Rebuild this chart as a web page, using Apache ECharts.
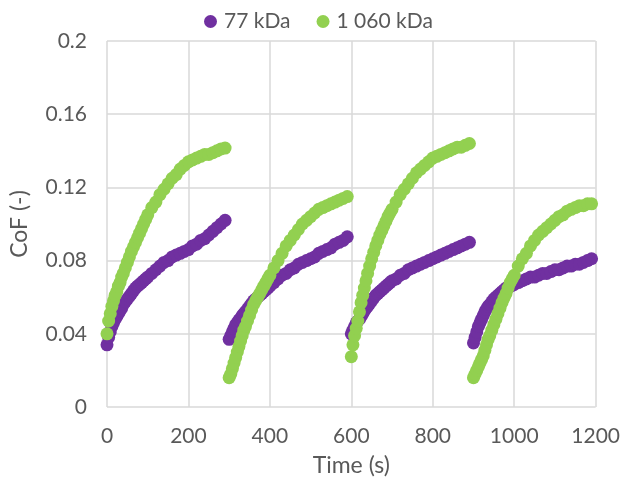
<!DOCTYPE html>
<html>
<head>
<meta charset="utf-8">
<script src="https://cdn.jsdelivr.net/npm/echarts@6/dist/echarts.min.js"></script>
<style>
  html, body { margin: 0; padding: 0; background: #fff; }
  #chart { width: 623px; height: 486px; }
</style>
</head>
<body>
<div id="chart"></div>
<script>
// start of each 300 s run and sample times within a run (s)
const segStarts = [0, 300, 600, 900]
const relTime = [0, 4, 8, 12, 16, 20, 24, 28, 32, 36, 40, 45, 50, 55, 60, 65, 70, 75, 80, 85, 90, 95, 100,
                 110, 120, 130, 140, 150, 160, 170, 180, 190, 200, 210, 220, 230, 240, 250, 260, 270, 280, 290]

// 77 kDa, CoF per run
const p1 = [0.034, 0.038, 0.041, 0.044, 0.046, 0.048, 0.0495, 0.051, 0.0525, 0.054, 0.056, 0.0575, 0.059, 0.0605, 0.062, 0.0635, 0.065, 0.066, 0.067, 0.068, 0.069, 0.070, 0.071,
            0.073, 0.075, 0.077, 0.079, 0.080, 0.082, 0.083, 0.084, 0.085, 0.086, 0.088, 0.089, 0.091, 0.092, 0.094, 0.096, 0.098, 0.100, 0.102]
const p2 = [0.037, 0.039, 0.041, 0.043, 0.045, 0.046, 0.0475, 0.0485, 0.050, 0.051, 0.052, 0.0535, 0.055, 0.0565, 0.058, 0.059, 0.060, 0.061, 0.062, 0.063, 0.064, 0.065, 0.066,
            0.068, 0.070, 0.072, 0.073, 0.075, 0.076, 0.078, 0.079, 0.080, 0.081, 0.082, 0.084, 0.085, 0.086, 0.087, 0.089, 0.090, 0.091, 0.093]
const p3 = [0.040, 0.042, 0.044, 0.046, 0.047, 0.048, 0.0495, 0.051, 0.0525, 0.054, 0.055, 0.0565, 0.058, 0.0595, 0.061, 0.062, 0.063, 0.064, 0.065, 0.066, 0.067, 0.068, 0.069,
            0.070, 0.072, 0.073, 0.075, 0.076, 0.077, 0.078, 0.079, 0.080, 0.081, 0.082, 0.083, 0.084, 0.085, 0.086, 0.087, 0.088, 0.089, 0.090]
const p4 = [0.035, 0.038, 0.041, 0.044, 0.046, 0.048, 0.050, 0.052, 0.0535, 0.055, 0.056, 0.0575, 0.059, 0.060, 0.061, 0.062, 0.063, 0.064, 0.065, 0.0655, 0.066, 0.0665, 0.067,
            0.068, 0.069, 0.070, 0.071, 0.071, 0.072, 0.073, 0.073, 0.074, 0.075, 0.075, 0.076, 0.077, 0.077, 0.078, 0.078, 0.079, 0.080, 0.081]

// 1 060 kDa, CoF per run
const g1 = [0.040, 0.047, 0.051, 0.055, 0.058, 0.061, 0.063, 0.066, 0.068, 0.071, 0.073, 0.076, 0.079, 0.082, 0.085, 0.0875, 0.090, 0.0925, 0.095, 0.0975, 0.100, 0.1025, 0.105,
            0.109, 0.112, 0.116, 0.119, 0.122, 0.125, 0.127, 0.130, 0.132, 0.134, 0.135, 0.136, 0.137, 0.138, 0.138, 0.139, 0.140, 0.141, 0.1415]
const g2 = [0.016, 0.018, 0.021, 0.024, 0.027, 0.030, 0.033, 0.036, 0.039, 0.042, 0.044, 0.047, 0.050, 0.053, 0.056, 0.058, 0.060, 0.062, 0.064, 0.066, 0.068, 0.070, 0.072,
            0.076, 0.080, 0.084, 0.088, 0.091, 0.094, 0.097, 0.100, 0.102, 0.104, 0.106, 0.108, 0.109, 0.110, 0.111, 0.112, 0.113, 0.114, 0.115]
const g3 = [0.0275, 0.034, 0.039, 0.043, 0.047, 0.052, 0.057, 0.061, 0.065, 0.069, 0.073, 0.077, 0.081, 0.0845, 0.088, 0.091, 0.094, 0.0965, 0.099, 0.1015, 0.104, 0.106, 0.108,
            0.112, 0.116, 0.119, 0.122, 0.125, 0.128, 0.130, 0.132, 0.134, 0.136, 0.137, 0.138, 0.139, 0.140, 0.141, 0.142, 0.142, 0.143, 0.144]
const g4 = [0.016, 0.018, 0.020, 0.022, 0.024, 0.026, 0.028, 0.031, 0.034, 0.037, 0.039, 0.042, 0.045, 0.048, 0.051, 0.054, 0.057, 0.0595, 0.062, 0.065, 0.068, 0.070, 0.072,
            0.077, 0.081, 0.084, 0.088, 0.091, 0.094, 0.096, 0.098, 0.100, 0.102, 0.104, 0.105, 0.107, 0.108, 0.109, 0.110, 0.110, 0.111, 0.111]

const seriesNames = ['77 kDa', '1 060 kDa']
const seriesColors = ['#7030A0', '#92D050']

function toPoints(runs) {
    const pts = []
    runs.forEach((vals, i) => {
        vals.forEach((v, j) => pts.push([segStarts[i] + relTime[j], v]))
    })
    return pts
}

const labelStyle = {color: '#595959', fontSize: 21, fontFamily: 'Lato'}

const option = {
    animation: false,
    color: seriesColors,
    legend: {
        data: seriesNames,
        top: 6,
        left: 199,
        icon: 'circle',
        itemWidth: 13,
        itemHeight: 13,
        itemGap: 26,
        textStyle: {color: '#595959', fontSize: 21, fontFamily: 'Lato', padding: [0, 0, 0, 2]}
    },
    grid: {left: 103, right: 22, top: 41, bottom: 79},
    xAxis: {
        type: 'value',
        min: 0,
        max: 1200,
        interval: 200,
        name: 'Time (s)',
        nameLocation: 'middle',
        nameGap: 47,
        nameTextStyle: {color: '#595959', fontSize: 23, fontFamily: 'Lato'},
        axisLine: {show: false},
        axisTick: {show: false},
        axisLabel: Object.assign({margin: 19, formatter: v => String(v)}, labelStyle),
        splitLine: {lineStyle: {color: '#d9d9d9', width: 1.5}}
    },
    yAxis: {
        type: 'value',
        min: 0,
        max: 0.2,
        interval: 0.04,
        name: 'CoF (-)',
        nameLocation: 'middle',
        nameGap: 76,
        nameTextStyle: {color: '#595959', fontSize: 23, fontFamily: 'Lato'},
        axisLine: {show: false},
        axisTick: {show: false},
        axisLabel: Object.assign({margin: 20, formatter: v => (v === 0 ? '0' : String(+v.toFixed(2)))}, labelStyle),
        splitLine: {lineStyle: {color: '#d9d9d9', width: 1.5}}
    },
    series: [
        {
            name: seriesNames[0],
            type: 'scatter',
            symbolSize: 13,
            itemStyle: {color: seriesColors[0], opacity: 1},
            data: toPoints([p1, p2, p3, p4]),
            z: 2
        },
        {
            name: seriesNames[1],
            type: 'scatter',
            symbolSize: 13,
            itemStyle: {color: seriesColors[1], opacity: 1},
            data: toPoints([g1, g2, g3, g4]),
            z: 3
        }
    ]
}

const chart = echarts.init(document.getElementById('chart'))
chart.setOption(option)
window.addEventListener('resize', () => chart.resize())
</script>
</body>
</html>
